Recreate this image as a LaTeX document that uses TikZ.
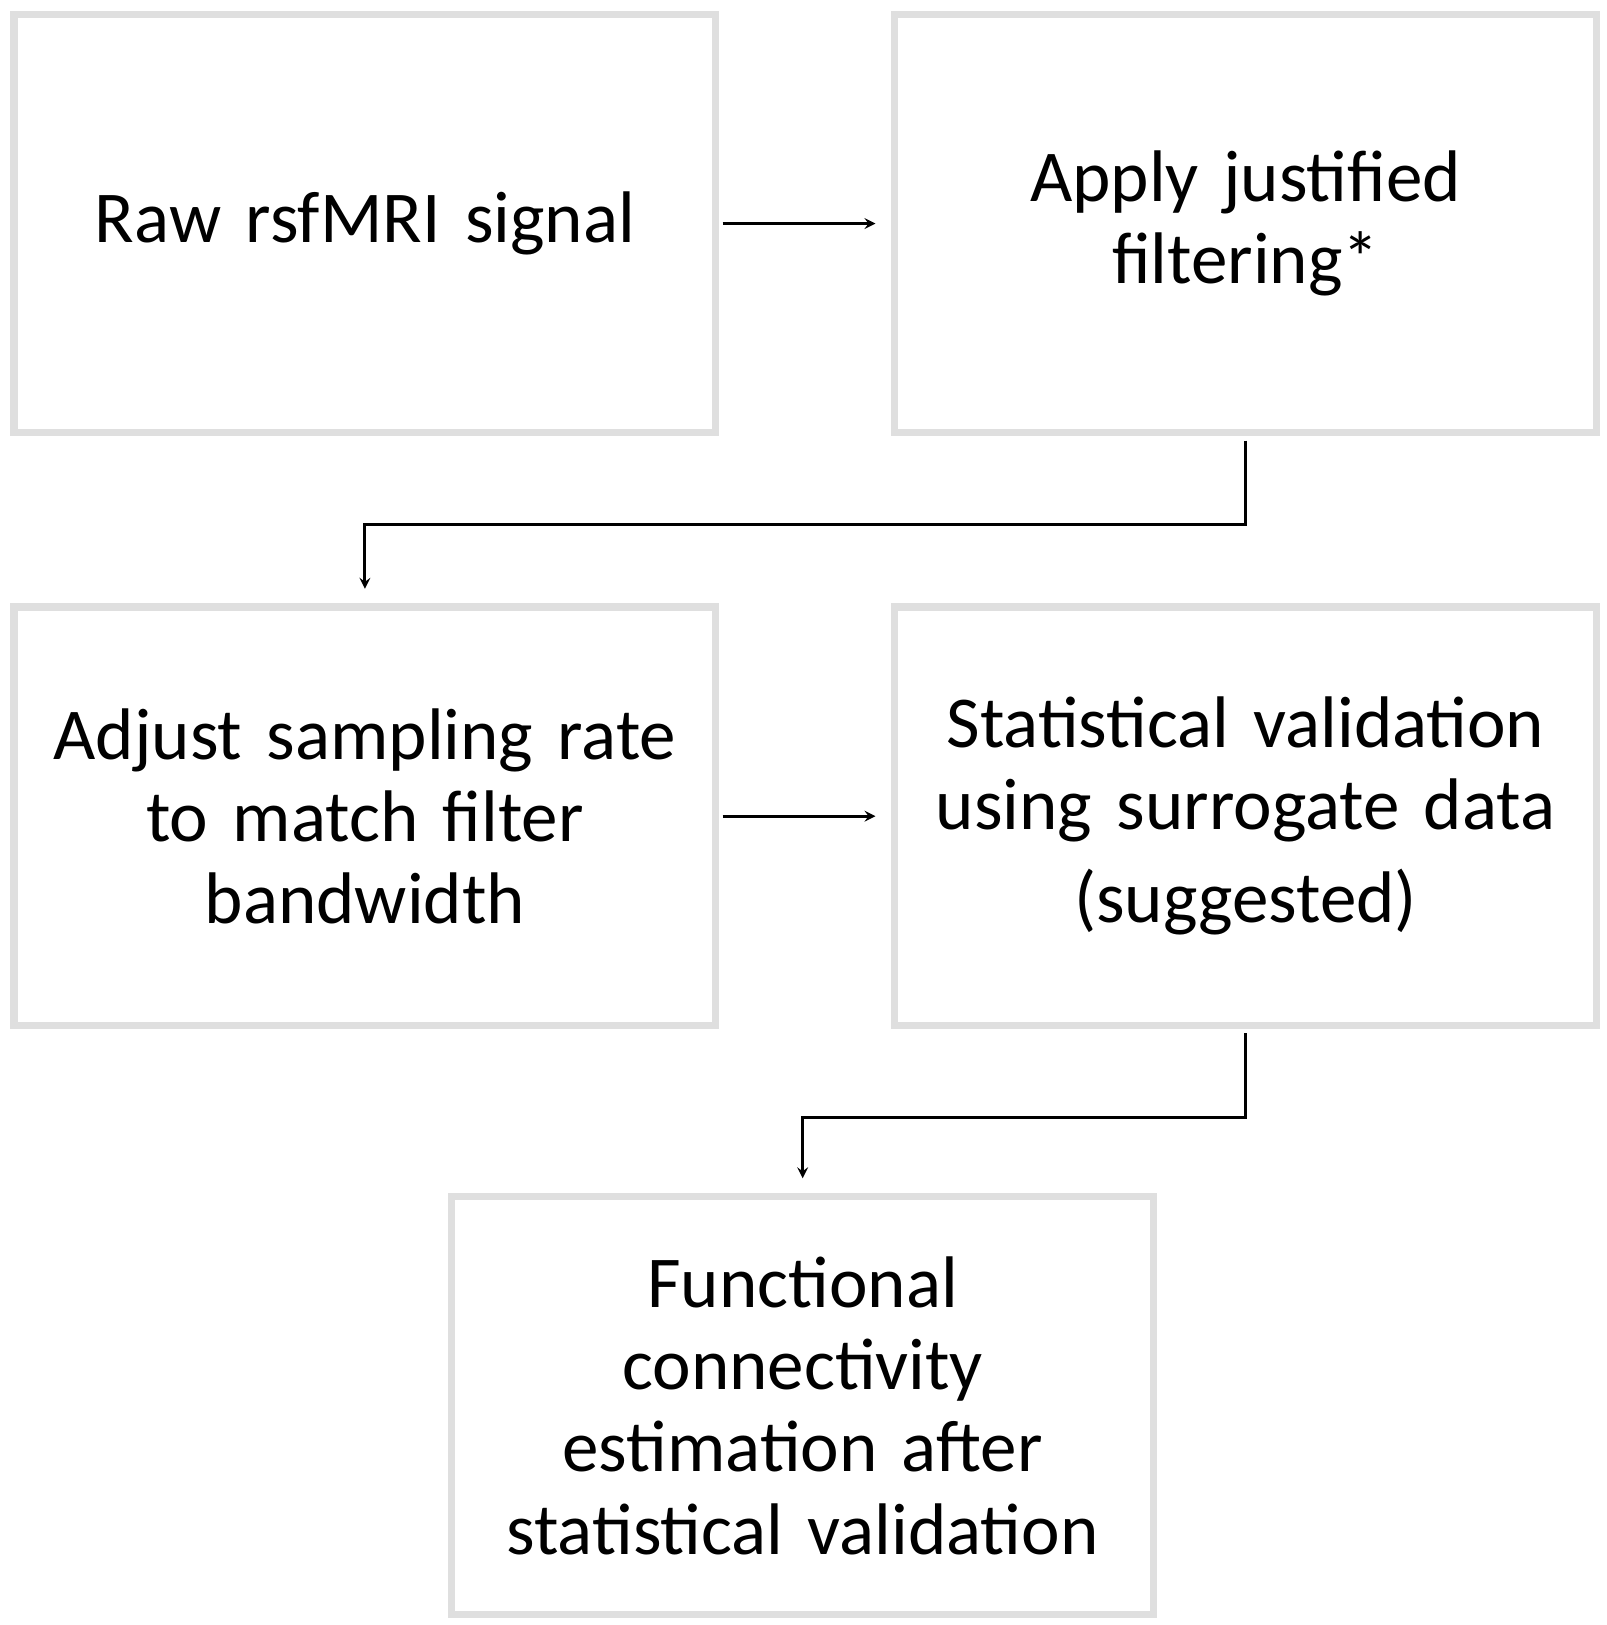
\documentclass[tikz,border=0pt]{standalone}
\usepackage{fontspec}
\setmainfont{Carlito}
\usetikzlibrary{positioning, arrows}
\tikzset{
  box/.style={draw=gray!25, line width=4pt, fill=white, minimum width=13.5cm, minimum height=8.05cm,
    align=center, text width=12.8cm, font=\fontsize{40}{45}\selectfont, inner sep=0pt},
  arrow/.style={->, >=stealth, line width=1.6pt, shorten >=0.3cm, shorten <=0.06cm}
}
\begin{document}
\begin{tikzpicture}[x=0.02cm, y=-0.02cm]
  \useasboundingbox (0,0) rectangle (1545,1563);
  % Kotak langkah
  \node[box] (raw) at (351,215) {Raw rsfMRI signal};
  \node[box] (filt) at (1198,215) {Apply justified\\filtering*};
  \node[box] (rate) at (351,785) {Adjust sampling rate\\to match filter\\bandwidth};
  \node[box] (stat) at (1198,785) {Statistical validation\\using surrogate data\\[6pt](suggested)};
  \node[box] (fc) at (772,1352) {Functional\\connectivity\\estimation after\\statistical validation};
  % Panah
  \draw[arrow] (raw) -- (filt);
  \draw[arrow] (rate) -- (stat);
  \draw[arrow, shorten <=0.08cm, shorten >=0.28cm] (filt.south) -- ++(0,85) -| (rate.north);
  \draw[arrow, shorten <=0.08cm, shorten >=0.28cm] (stat.south) -- ++(0,85) -| (fc.north);
\end{tikzpicture}
\end{document}
